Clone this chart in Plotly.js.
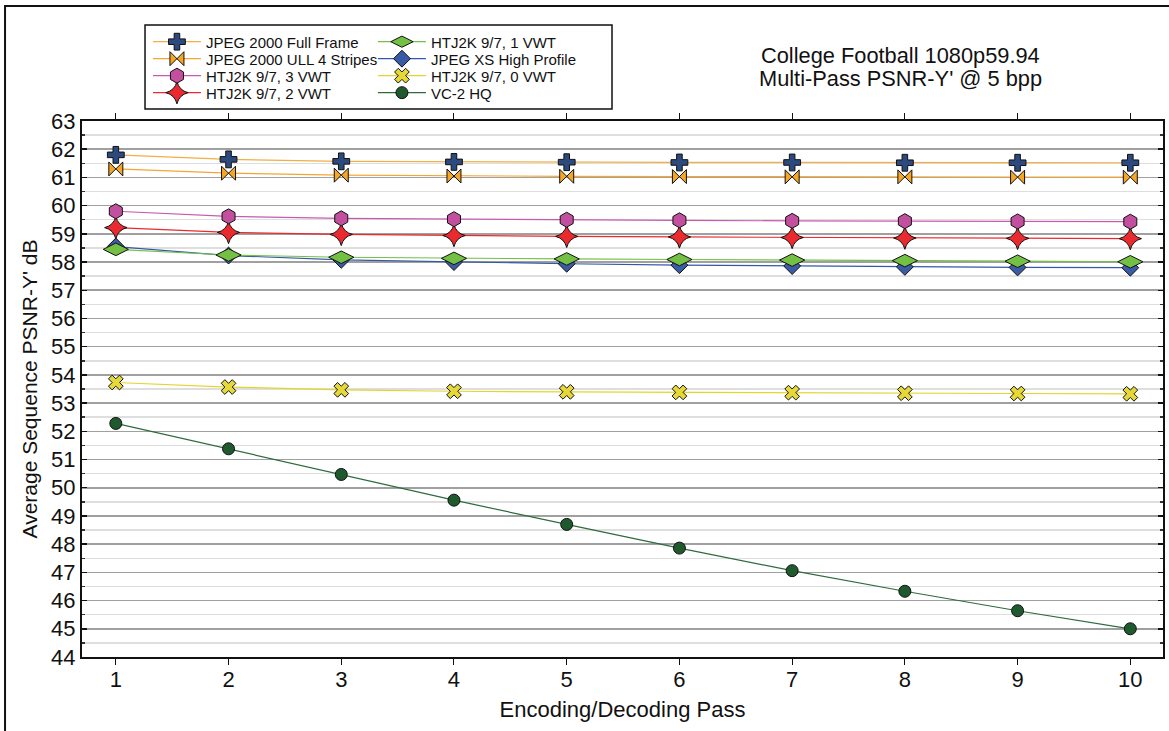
<!DOCTYPE html>
<html>
<head>
<meta charset="utf-8">
<script src="https://cdn.plot.ly/plotly-3.0.1.min.js"></script>
<style>
  html, body { margin: 0; padding: 0; background: #fff; }
  #chart { width: 1169px; height: 731px; }
</style>
</head>
<body>
<div id="chart"></div>
<script>
// Encoding/decoding pass index
const passes = [1, 2, 3, 4, 5, 6, 7, 8, 9, 10];

// Average PSNR-Y' (dB) per pass for each codec configuration
const jpeg2000Full   = [61.80, 61.64, 61.57, 61.55, 61.54, 61.53, 61.53, 61.52, 61.52, 61.52];
const jpeg2000Ull    = [61.30, 61.15, 61.08, 61.05, 61.04, 61.03, 61.02, 61.02, 61.01, 61.01];
const htj2k3         = [59.80, 59.62, 59.55, 59.52, 59.50, 59.48, 59.46, 59.45, 59.44, 59.43];
const htj2k2         = [59.22, 59.05, 58.98, 58.94, 58.91, 58.89, 58.87, 58.85, 58.84, 58.83];
const htj2k1         = [58.45, 58.25, 58.17, 58.13, 58.11, 58.09, 58.07, 58.05, 58.03, 58.01];
const jpegXsHigh     = [58.55, 58.23, 58.08, 58.00, 57.94, 57.89, 57.86, 57.83, 57.81, 57.80];
const htj2k0         = [53.73, 53.57, 53.47, 53.42, 53.40, 53.38, 53.37, 53.35, 53.34, 53.33];
const vc2Hq          = [52.28, 51.38, 50.47, 49.56, 48.70, 47.86, 47.06, 46.33, 45.64, 45.00];

const xTicks = [1, 2, 3, 4, 5, 6, 7, 8, 9, 10];
const yTicks = [44, 45, 46, 47, 48, 49, 50, 51, 52, 53, 54, 55, 56, 57, 58, 59, 60, 61, 62, 63];

const titleLines = ["College Football 1080p59.94", "Multi-Pass PSNR-Y' @ 5 bpp"];

const FONT = 'Liberation Sans, Arial, Helvetica, sans-serif';

function series(name, y, lineColor, symbol, fill, size, legend, rank) {
  return {
    type: 'scatter', mode: 'lines+markers', name: name,
    x: passes, y: y,
    line: { color: lineColor, width: 1.2 },
    marker: { symbol: symbol, color: fill, size: size, line: { color: '#111', width: 1 } },
    legend: legend, legendrank: rank,
    cliponaxis: false
  };
}

// drawing order: later traces sit on top; each legend row holds two entries
const traces = [
  series('VC-2 HQ', vc2Hq, '#2e6b3c', 'circle', '#1f5a2f', 12, 'legend4', 2),
  series('HTJ2K 9/7, 0 VWT', htj2k0, '#e3d530', 'x', '#e6d836', 13, 'legend3', 2),
  series('JPEG XS High Profile', jpegXsHigh, '#3557a6', 'diamond', '#3a5ca6', 13, 'legend2', 2),
  series('HTJ2K 9/7, 1 VWT', htj2k1, '#72c048', 'diamond-wide', '#74c044', 18, 'legend', 2),
  series('HTJ2K 9/7, 2 VWT', htj2k2, '#ea2a2e', 'star-diamond', '#ea2a2e', 16, 'legend4', 1),
  series('HTJ2K 9/7, 3 VWT', htj2k3, '#c65aaf', 'hexagon', '#c2509e', 15, 'legend3', 1),
  series('JPEG 2000 ULL 4 Stripes', jpeg2000Ull, '#f3a733', 'bowtie', '#f5a626', 14, 'legend2', 1),
  series('JPEG 2000 Full Frame', jpeg2000Full, '#f3ae45', 'cross', '#2c4a7e', 14, 'legend', 1)
];

const legendRowY = [1.1475, 1.1158, 1.0841, 1.0524];

function legendRow(y) {
  return {
    orientation: 'h', xanchor: 'left', yanchor: 'middle', x: 0.061, y: y,
    bgcolor: 'rgba(0,0,0,0)', borderwidth: 0,
    font: { family: FONT, size: 15, color: '#111' },
    itemwidth: 48, entrywidth: 162, traceorder: 'normal',
    itemclick: false, itemdoubleclick: false
  };
}

const layout = {
  width: 1169, height: 731,
  paper_bgcolor: '#fff', plot_bgcolor: '#fff',
  margin: { l: 82, r: 6, t: 121, b: 74 },
  font: { family: FONT, color: '#111' },
  showlegend: true,
  legend: legendRow(legendRowY[0]),
  legend2: legendRow(legendRowY[1]),
  legend3: legendRow(legendRowY[2]),
  legend4: legendRow(legendRowY[3]),
  xaxis: {
    range: [0.7, 10.29],
    tickvals: xTicks, ticktext: xTicks.map(String),
    ticks: 'outside', ticklen: 6, tickwidth: 1, tickcolor: '#111',
    ticklabelstandoff: -4,
    showline: true, linecolor: '#111', linewidth: 2, mirror: 'ticks',
    showgrid: false, zeroline: false,
    tickfont: { family: FONT, size: 22, color: '#111' },
    title: { text: 'Encoding/Decoding Pass', font: { family: FONT, size: 22, color: '#111' }, standoff: 10 }
  },
  yaxis: {
    range: [44, 63],
    tickvals: yTicks, ticktext: yTicks.map(String),
    ticks: 'inside', ticklen: 5, tickwidth: 1.5, tickcolor: '#111',
    showline: true, linecolor: '#111', linewidth: 2, mirror: 'ticks',
    showgrid: true, gridcolor: '#a0a0a0', gridwidth: 1.6, zeroline: false,
    minor: { dtick: 0.5, showgrid: true, gridcolor: '#dedede', gridwidth: 1.5, ticks: 'inside', ticklen: 3, tickcolor: '#333' },
    tickfont: { family: FONT, size: 22, color: '#111' },
    title: { text: "Average Sequence PSNR-Y' dB", font: { family: FONT, size: 21, color: '#111' }, standoff: 8 }
  },
  annotations: titleLines.map((t, i) => ({
    xref: 'paper', yref: 'paper', x: 0.7576, y: i === 0 ? 1.1231 : 1.0784,
    xanchor: 'center', yanchor: 'middle',
    text: t, showarrow: false,
    font: { family: FONT, size: 21.8, color: '#111' }
  })),
  shapes: [
    // legend frame around both columns
    { type: 'rect', xref: 'paper', yref: 'paper', x0: 0.0583, x1: 0.4903, y0: 1.0224, y1: 1.1791,
      line: { color: '#111', width: 1.5 }, fillcolor: 'rgba(0,0,0,0)' },
    // outer figure frame
    { type: 'rect', xref: 'paper', yref: 'paper', x0: -0.0712, x1: 1.2, y0: -0.5, y1: 1.2146,
      line: { color: '#111', width: 2 }, fillcolor: 'rgba(0,0,0,0)' }
  ]
};

Plotly.newPlot('chart', traces, layout, { displayModeBar: false, staticPlot: true });
</script>
</body>
</html>
